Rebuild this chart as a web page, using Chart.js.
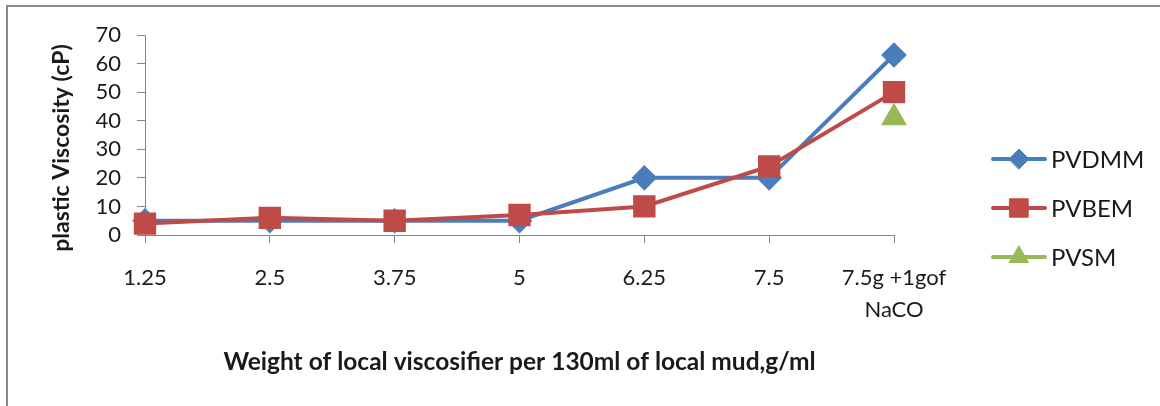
<!DOCTYPE html>
<html>
<head>
<meta charset="utf-8">
<script src="https://cdn.jsdelivr.net/npm/chart.js@4/dist/chart.umd.min.js"></script>
<style>
  body { margin: 0; background: #fff; }
  #wrap { position: relative; width: 1160px; height: 406px; overflow: hidden; }
  #frame { position: absolute; left: 6px; top: 5px; width: 1170px; height: 420px; border: 2px solid #8a8a8a; }
  #chartjs1 { position: absolute; left: 0; top: 0; }
</style>
</head>
<body>
<div id="wrap">
  <div id="frame"></div>
  <canvas id="chartjs1" width="1160" height="406"></canvas>
</div>
<script>
// categories (weight of viscosifier)
const weights = ['1.25', '2.5', '3.75', '5', '6.25', '7.5', ['7.5g +1gof', 'NaCO']];
// plastic viscosity, cP
const pvdmm = [5, 5, 5, 5, 20, 20, 63];
const pvbem = [4, 6, 5, 7, 10, 24, 50];
const pvsm  = [null, null, null, null, null, null, 41];
const yTicks = [0, 10, 20, 30, 40, 50, 60, 70];
const yTitle = 'plastic Viscosity (cP)';

const axisGrey = '#868686';
const txt = '#1a1a1a';

// legend drawn like excel: line with the marker through it
// y title drawn here too, excel puts it a bit lower than the plot centre
const extras = {
    id: 'extras',
    afterDraw(chart) {
        const ctx = chart.ctx;
        const rows = [159, 208, 257];
        chart.data.datasets.forEach((ds, i) => {
            const y = rows[i];
            ctx.save();
            ctx.strokeStyle = ds.borderColor;
            ctx.fillStyle = ds.borderColor;
            ctx.lineWidth = 4;
            ctx.lineCap = 'round';
            ctx.beginPath();
            ctx.moveTo(993, y);
            ctx.lineTo(1045, y);
            ctx.stroke();
            ctx.lineWidth = 1;
            Chart.helpers.drawPoint(ctx, {
                pointStyle: ds.pointStyle,
                radius: ds.pointRadius,
                borderWidth: 1
            }, 1019, y);
            ctx.fillStyle = txt;
            ctx.font = '24px Lato';
            ctx.textBaseline = 'middle';
            ctx.fillText(ds.label, 1051, y + 1);
            ctx.restore();
        });

        ctx.save();
        ctx.translate(62, 148);
        ctx.rotate(-Math.PI / 2);
        ctx.fillStyle = txt;
        ctx.font = 'bold 23px Lato';
        ctx.textAlign = 'center';
        ctx.textBaseline = 'middle';
        ctx.fillText(yTitle, 0, 0);
        ctx.restore();
    }
};

function series(label, data, color, style, r, order) {
    return {
        label: label,
        data: data,
        borderColor: color,
        backgroundColor: color,
        pointBackgroundColor: color,
        pointBorderColor: color,
        borderWidth: 4,
        pointStyle: style,
        pointRadius: r,
        pointHoverRadius: r,
        tension: 0,
        clip: false,
        order: order
    };
}

new Chart(document.getElementById('chartjs1'), {
    type: 'line',
    data: {
        labels: weights,
        datasets: [
            series('PVDMM', pvdmm, '#4A7EBB', 'rectRot', 10, 3),
            series('PVBEM', pvbem, '#BE4B48', 'rect', 13, 2),
            series('PVSM', pvsm, '#98B954', 'triangle', 11, 1)
        ]
    },
    options: {
        responsive: false,
        animation: false,
        events: [],
        layout: { padding: { top: 35, right: 266, bottom: 0, left: 0 } },
        plugins: { legend: { display: false }, tooltip: { enabled: false } },
        scales: {
            x: {
                offset: false,
                grid: { drawOnChartArea: false, color: axisGrey, tickLength: 8 },
                border: { color: axisGrey, width: 1 },
                ticks: {
                    color: txt,
                    maxRotation: 0,
                    autoSkip: false,
                    padding: 19,
                    font: { family: 'Lato', size: 22, lineHeight: '32px' }
                },
                title: {
                    display: true,
                    text: 'Weight of local viscosifier per 130ml of local mud,g/ml',
                    color: txt,
                    font: { family: 'Lato', size: 24.5, weight: 'bold', lineHeight: 1.2 },
                    padding: { top: 0, bottom: 29 }
                },
                afterFit(scale) { scale.height = 171; }
            },
            y: {
                min: 0,
                max: 70,
                afterBuildTicks(scale) { scale.ticks = yTicks.map(v => ({ value: v })); },
                grid: { drawOnChartArea: false, color: axisGrey, tickLength: 8 },
                border: { color: axisGrey, width: 1 },
                ticks: {
                    color: txt,
                    padding: 16,
                    autoSkip: false,
                    font: { family: 'Lato', size: 22 }
                },
                afterFit(scale) { scale.width = 145; }
            }
        }
    },
    plugins: [extras]
});
</script>
</body>
</html>
